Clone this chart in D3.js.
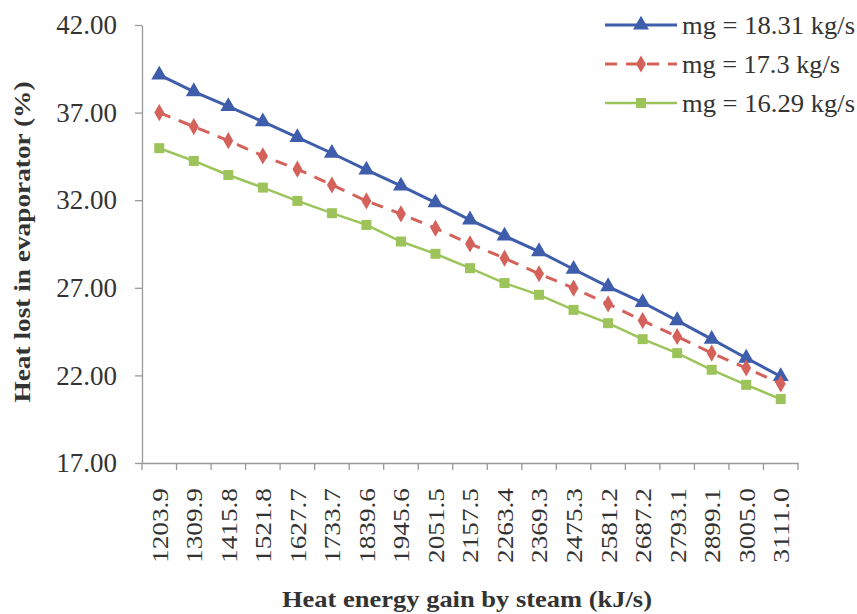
<!DOCTYPE html>
<html><head><meta charset="utf-8">
<script src="https://cdn.jsdelivr.net/npm/d3@7"></script>
<style>body{margin:0;background:#fff}svg{display:block}</style>
</head><body><svg id="c" width="857" height="614"></svg>
<script>
const categories = ["1203.9","1309.9","1415.8","1521.8","1627.7","1733.7","1839.6","1945.6","2051.5","2157.5","2263.4","2369.3","2475.3","2581.2","2687.2","2793.1","2899.1","3005.0","3111.0"];
const mg1831 = [39.15,38.20,37.35,36.48,35.58,34.68,33.73,32.82,31.86,30.88,29.96,29.07,28.06,27.07,26.16,25.13,24.07,22.99,21.94];
const mg173  = [37.00,36.20,35.40,34.53,33.77,32.87,31.96,31.22,30.40,29.51,28.69,27.80,26.98,26.08,25.13,24.22,23.27,22.42,21.52];
const mg1629 = [34.97,34.24,33.44,32.72,31.96,31.26,30.59,29.64,28.94,28.12,27.27,26.60,25.74,24.98,24.07,23.27,22.32,21.46,20.65];
const seriesNames = ["mg = 18.31 kg/s","mg = 17.3 kg/s","mg = 16.29 kg/s"];
const yTicks = [17,22,27,32,37,42];
const xTitle = "Heat energy gain by steam (kJ/s)";
const yTitle = "Heat lost in evaporator (%)";

function avail(f){
  const c = document.createElement("canvas").getContext("2d");
  const s = "mg=18.31 Heat lost (kJ/s)";
  c.font = "40px monospace"; const a = c.measureText(s).width;
  c.font = `40px "${f}", monospace`; return Math.abs(c.measureText(s).width - a) > 0.5;
}
const fam = ["Liberation Serif","Times New Roman","Tinos","Nimbus Roman","FreeSerif"].find(avail);
const font = fam ? `"${fam}", serif` : "serif";

const svg = d3.select("#c");
const x = d3.scaleBand().domain(categories).range([142,798]);
const y = d3.scaleLinear().domain([17,42]).range([463,25]);
const cx = c => x(c) + x.bandwidth()/2;

const styles = [
  {name:seriesNames[0], data:mg1831, color:"#3E5DAB", width:3, dash:null, sym:d3.symbolTriangle, size:110},
  {name:seriesNames[1], data:mg173,  color:"#D4625B", width:3, dash:"12,9", sym:d3.symbolDiamond, size:85},
  {name:seriesNames[2], data:mg1629, color:"#9CC45A", width:2.5, dash:null, sym:d3.symbolSquare, size:100}
];

// Y axis
const yAxis = svg.append("g").attr("transform","translate(142,0)")
  .call(d3.axisLeft(y).tickValues(yTicks).tickFormat(d3.format(".2f")).tickSize(7).tickSizeOuter(0).tickPadding(18));
yAxis.select(".domain").attr("stroke","#999").attr("stroke-width",1.3);
yAxis.selectAll(".tick line").attr("stroke","#999").attr("stroke-width",1.3);
yAxis.selectAll(".tick text").attr("font-family",font).attr("font-size",27).attr("fill","#333");

// X axis
const xAxis = svg.append("g").attr("transform","translate(0,463)")
  .call(d3.axisBottom(x).tickSize(0).tickSizeOuter(0));
xAxis.select(".domain").attr("stroke","#999").attr("stroke-width",1.3);
xAxis.selectAll(".tick text")
  .attr("font-family",font).attr("font-size",24).attr("fill","#333")
  .attr("text-anchor","end").attr("transform","translate(0,25) rotate(-90)")
  .attr("x",0).attr("y",0).attr("dy","0.35em")
  .attr("textLength",75).attr("lengthAdjust","spacingAndGlyphs");
// boundary ticks
const bounds = d3.range(categories.length+1).map(i => x.range()[0] + i*x.step());
svg.append("g").selectAll("line").data(bounds).join("line")
  .attr("x1",d=>d).attr("x2",d=>d).attr("y1",463).attr("y2",470)
  .attr("stroke","#999").attr("stroke-width",1.3);

// Series
styles.forEach(s => {
  const line = d3.line().x((d,i)=>cx(categories[i])).y(d=>y(d));
  svg.append("path").datum(s.data).attr("d",line).attr("fill","none")
    .attr("stroke",s.color).attr("stroke-width",s.width)
    .attr("stroke-dasharray",s.dash);
  svg.append("g").selectAll("path").data(s.data).join("path")
    .attr("d",d3.symbol().type(s.sym).size(s.size))
    .attr("transform",(d,i)=>`translate(${cx(categories[i])},${y(d)})`)
    .attr("fill",s.color);
});

// Legend
const legY = [25,64,103];
styles.forEach((s,i) => {
  const g = svg.append("g").attr("transform",`translate(0,${legY[i]})`);
  g.append("line").attr("x1",605).attr("x2",677).attr("y1",0).attr("y2",0)
    .attr("stroke",s.color).attr("stroke-width",s.width).attr("stroke-dasharray",s.dash);
  g.append("path").attr("d",d3.symbol().type(s.sym).size(s.size)).attr("transform","translate(641,0)").attr("fill",s.color);
  g.append("text").attr("x",682).attr("y",0).attr("dy","0.33em")
    .attr("font-family",font).attr("font-size",26).attr("fill","#333")
    .attr("textLength", i===1 ? 158 : 173).attr("lengthAdjust","spacingAndGlyphs")
    .text(s.name);
});

// Titles
svg.append("text").attr("x",467).attr("y",607).attr("text-anchor","middle")
  .attr("font-family",font).attr("font-size",23).attr("font-weight","bold").attr("fill","#333")
  .attr("textLength",370).attr("lengthAdjust","spacingAndGlyphs").text(xTitle);
svg.append("text").attr("transform","translate(30,242) rotate(-90)").attr("text-anchor","middle")
  .attr("font-family",font).attr("font-size",23).attr("font-weight","bold").attr("fill","#333")
  .attr("textLength",321).attr("lengthAdjust","spacingAndGlyphs").text(yTitle);
</script></body></html>
